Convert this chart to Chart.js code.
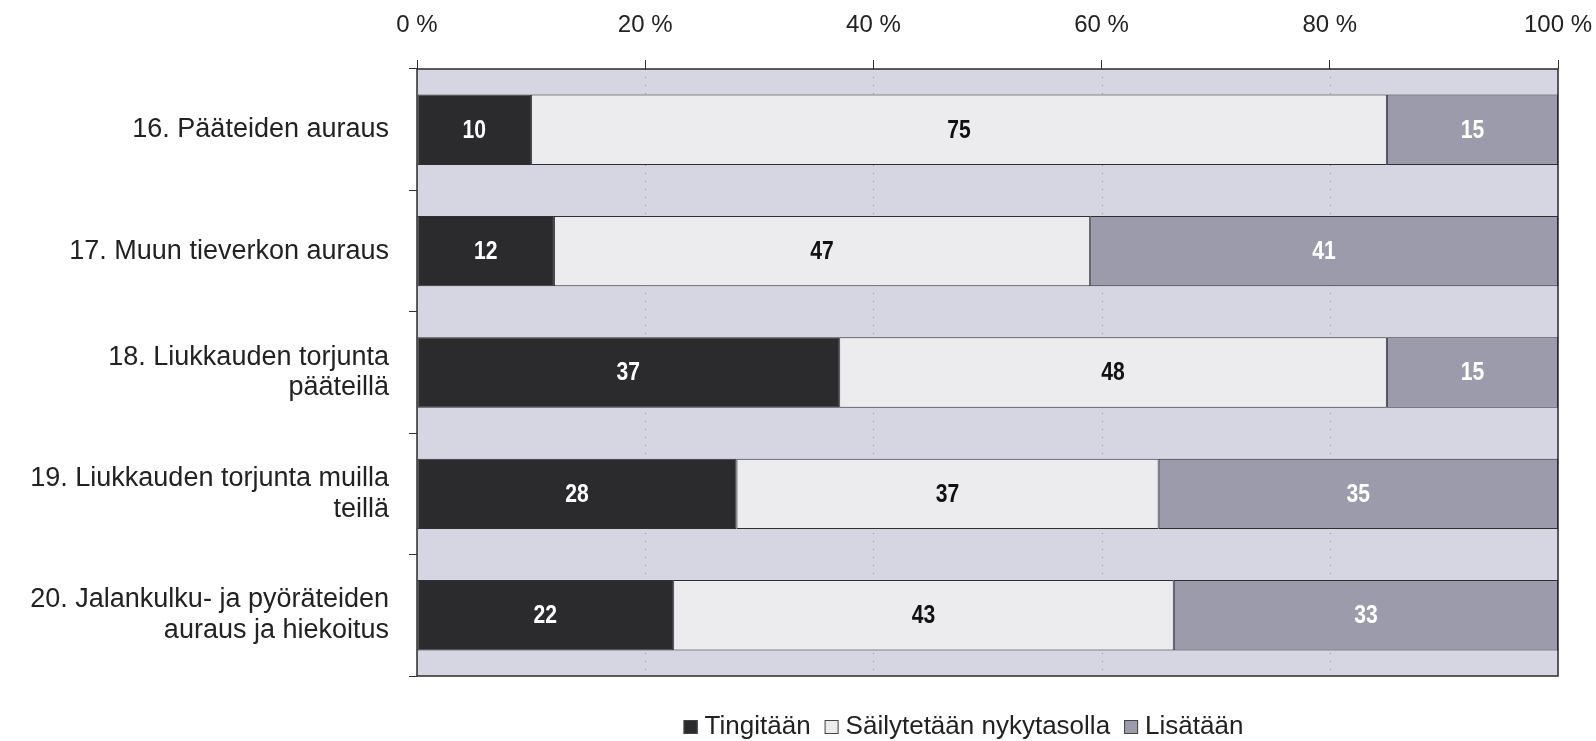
<!DOCTYPE html>
<html>
<head>
<meta charset="utf-8">
<script src="https://cdn.jsdelivr.net/npm/chart.js@4.4.1/dist/chart.umd.min.js"></script>
<style>
  html, body { margin: 0; padding: 0; background: #fff; }
  #wrap { width: 1596px; height: 741px; }
</style>
</head>
<body>
<div id="wrap"><canvas id="chart" width="1596" height="741"></canvas></div>
<script>
const categories = [
  ["16. Pääteiden auraus"],
  ["17. Muun tieverkon auraus"],
  ["18. Liukkauden torjunta", "pääteillä"],
  ["19. Liukkauden torjunta muilla", "teillä"],
  ["20. Jalankulku- ja pyöräteiden", "auraus ja hiekoitus"],
];
const seriesNames = ["Tingitään", "Säilytetään nykytasolla", "Lisätään"];
const tingitaan = [10, 12, 37, 28, 22];
const sailytetaan = [75, 47, 48, 37, 43];
const lisataan = [15, 41, 15, 35, 33];
const xTicks = [0, 20, 40, 60, 80, 100];

const raw = [tingitaan, sailytetaan, lisataan];
const totals = categories.map((_, i) => raw.reduce((s, arr) => s + arr[i], 0));
// 100 % stacked: each bar is scaled to its row total
const shares = raw.map((arr) => arr.map((v, i) => (v / totals[i]) * 100));

const fills = ["#2b2b2d", "#ececef", "#9c9bac"];
const labelColors = ["#ffffff", "#111111", "#ffffff"];
const labelFont = "bold 24px 'Liberation Sans', Arial, sans-serif";

const plotBackground = {
  id: "plotBackground",
  beforeDraw(chart) {
    const { ctx, chartArea: a } = chart;
    ctx.save();
    ctx.fillStyle = "#d6d6e3";
    ctx.fillRect(a.left, a.top, a.right - a.left, a.bottom - a.top);
    // faint dotted gridlines
    const xs = chart.scales.x;
    ctx.strokeStyle = "rgba(70,70,90,0.45)";
    ctx.lineWidth = 1;
    ctx.setLineDash([1, 7]);
    xTicks.slice(1, -1).forEach((t) => {
      const px = Math.round(xs.getPixelForValue(t)) + 0.5;
      ctx.beginPath();
      ctx.moveTo(px, a.top);
      ctx.lineTo(px, a.bottom);
      ctx.stroke();
    });
    ctx.restore();
  },
};

const segmentLabels = {
  id: "segmentLabels",
  afterDatasetsDraw(chart) {
    const { ctx, chartArea: a } = chart;
    ctx.save();
    ctx.textAlign = "center";
    ctx.textBaseline = "middle";
    chart.data.datasets.forEach((ds, di) => {
      const meta = chart.getDatasetMeta(di);
      ctx.fillStyle = labelColors[di];
      meta.data.forEach((bar, i) => {
        const cx = (bar.x + bar.base) / 2;
        ctx.save();
        ctx.translate(cx, bar.y + 1);
        ctx.scale(0.88, 1.05);
        ctx.font = labelFont;
        ctx.fillText(String(raw[di][i]), 0, 0);
        ctx.restore();
      });
    });
    ctx.strokeStyle = "#2a2a2a";
    ctx.lineWidth = 1.5;
    ctx.strokeRect(a.left, a.top, a.right - a.left, a.bottom - a.top);
    ctx.restore();
  },
};

const bottomLegend = {
  id: "bottomLegend",
  afterDraw(chart) {
    const { ctx, chartArea: a } = chart;
    ctx.save();
    ctx.font = "26px 'Liberation Sans', Arial, sans-serif";
    ctx.textBaseline = "middle";
    const box = 14, gapBox = 7, gapItem = 14;
    const items = chart.data.datasets.map((ds) => ({ label: ds.label, color: ds.backgroundColor }));
    const widths = items.map((it) => box + gapBox + ctx.measureText(it.label).width);
    const total = widths.reduce((s, w) => s + w, 0) + gapItem * (items.length - 1);
    let x = (a.left + a.right) / 2 - 24 - total / 2;
    const y = 727;
    items.forEach((it, i) => {
      ctx.fillStyle = it.color;
      ctx.fillRect(x, y - box / 2, box, box);
      ctx.strokeStyle = "#444";
      ctx.lineWidth = 1;
      ctx.strokeRect(x + 0.5, y - box / 2 + 0.5, box - 1, box - 1);
      ctx.fillStyle = "#222";
      ctx.fillText(it.label, x + box + gapBox, y);
      x += widths[i] + gapItem;
    });
    ctx.restore();
  },
};

new Chart(document.getElementById("chart"), {
  type: "bar",
  data: {
    labels: categories,
    datasets: seriesNames.map((name, di) => ({
      label: name,
      data: shares[di],
      backgroundColor: fills[di],
      borderColor: "#2e2e33",
      borderWidth: 1,
      borderSkipped: false,
      categoryPercentage: 1,
      barPercentage: 0.58,
    })),
  },
  options: {
    indexAxis: "y",
    responsive: false,
    animation: false,
    layout: { padding: { top: 0, left: 0, right: 38, bottom: 65 } },
    plugins: {
      legend: { display: false },
      tooltip: { enabled: false },
    },
    scales: {
      x: {
        position: "top",
        stacked: true,
        min: 0,
        max: 100,
        afterFit: (scale) => {
          scale.height = 69;
          scale.paddingLeft = 0;
          scale.paddingRight = 0;
        },
        afterBuildTicks: (scale) => { scale.ticks = xTicks.map((v) => ({ value: v })); },
        ticks: {
          padding: 20,
          color: "#222",
          font: { family: "'Liberation Sans', Arial, sans-serif", size: 24 },
          callback: (v) => `${v} %`,
          maxRotation: 0,
        },
        grid: {
          drawOnChartArea: false,
          tickLength: 9,
          tickColor: "#333",
          tickWidth: 1,
        },
        border: { display: false },
      },
      y: {
        stacked: true,
        afterFit: (scale) => { scale.width = 417; },
        ticks: {
          padding: 20,
          color: "#222",
          font: { family: "'Liberation Sans', Arial, sans-serif", size: 27, lineHeight: 1.14 },
        },
        grid: {
          offset: true,
          drawOnChartArea: false,
          tickLength: 8,
          tickColor: "#333",
          tickWidth: 1,
        },
        border: { display: false },
      },
    },
  },
  plugins: [plotBackground, segmentLabels, bottomLegend],
});
</script>
</body>
</html>
